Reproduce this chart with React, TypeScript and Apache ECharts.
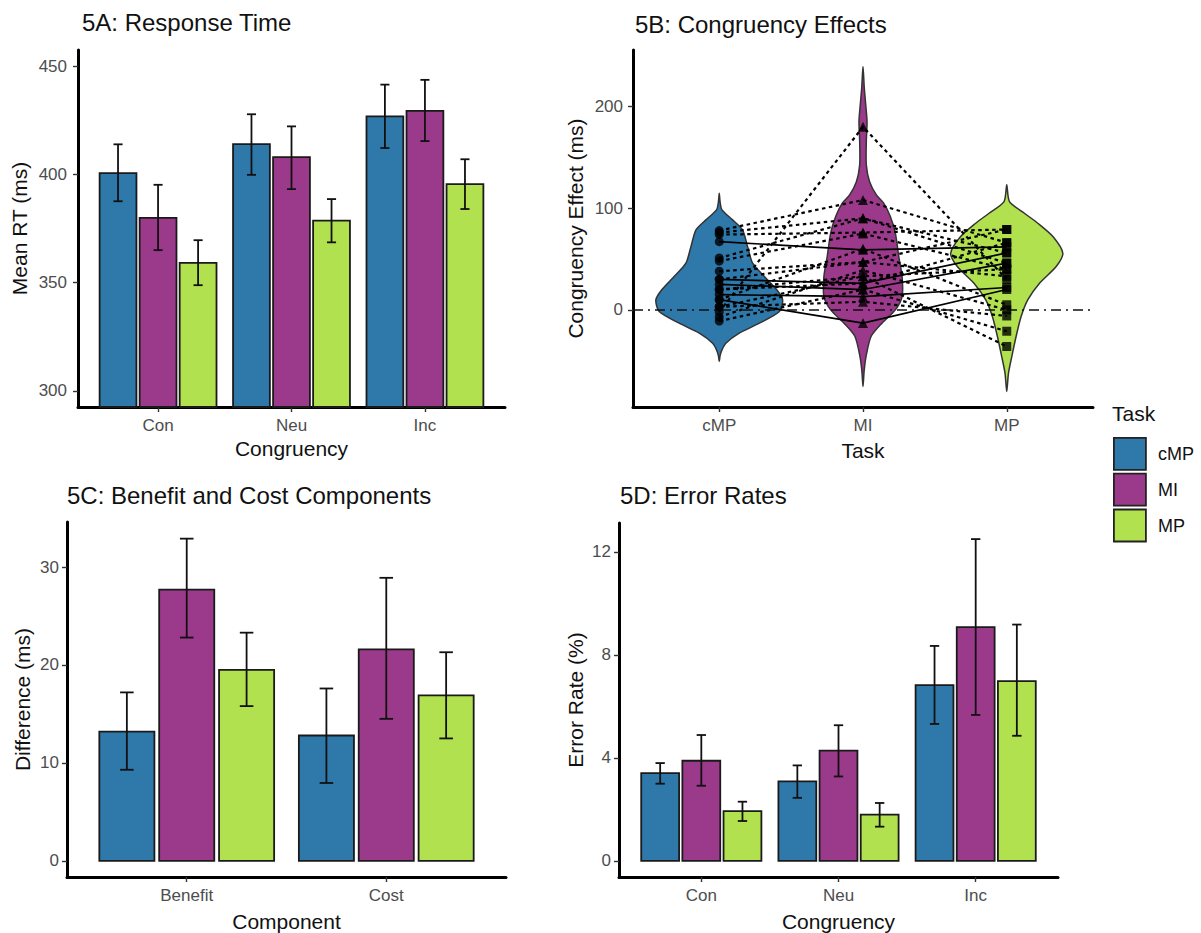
import React, { useEffect, useRef } from 'react';
import * as echarts from 'echarts';

const FONT = '"Liberation Sans", Arial, Helvetica, sans-serif';

const tasks = ['cMP', 'MI', 'MP'];
const taskColors = ['#2E78AA', '#9B3A8A', '#B1E14F'];

const congruencyLabels = ['Con', 'Neu', 'Inc'];
const componentLabels = ['Benefit', 'Cost'];

// 5A response time: [mean, lower, upper] per congruency
const rtCMP = [[400.6, 387.6, 413.9], [414.0, 399.8, 427.8], [426.8, 412.2, 441.5]];
const rtMI = [[379.9, 365.0, 395.2], [408.0, 393.2, 422.2], [429.4, 415.4, 443.7]];
const rtMP = [[359.1, 348.8, 369.6], [378.6, 368.6, 388.6], [395.5, 384.0, 407.0]];

// 5C benefit / cost: [mean, lower, upper]
const compCMP = [[13.2, 9.3, 17.2], [12.8, 7.95, 17.6]];
const compMI = [[27.7, 22.8, 32.9], [21.6, 14.5, 28.9]];
const compMP = [[19.5, 15.8, 23.3], [16.9, 12.5, 21.3]];

// 5D error rates: [mean, lower, upper]
const erCMP = [[3.41, 3.0, 3.8], [3.09, 2.45, 3.71], [6.83, 5.32, 8.35]];
const erMI = [[3.89, 2.92, 4.89], [4.28, 3.28, 5.27], [9.08, 5.67, 12.5]];
const erMP = [[1.93, 1.55, 2.3], [1.8, 1.33, 2.25], [6.98, 4.86, 9.18]];

// 5B violin outlines: [congruency effect (ms), half width (x units)]
const violinCMP = [[114.7, 0], [106, 0.006], [98.3, 0.019], [88.5, 0.093], [78.7, 0.162], [62.2, 0.197], [45.9, 0.232], [32.8, 0.314], [19.7, 0.4], [9.8, 0.441], [-1.6, 0.418], [-13.1, 0.279], [-22.9, 0.139], [-32.8, 0.046], [-39.3, 0.019], [-45, 0.006], [-50.8, 0]];
const violinMI = [[239.3, 0], [218, 0.009], [201.6, 0.019], [185, 0.028], [165.5, 0.023], [142.6, 0.023], [126, 0.046], [113, 0.093], [104.9, 0.144], [91.7, 0.19], [75.4, 0.225], [52.4, 0.249], [32.8, 0.272], [13.1, 0.272], [0, 0.225], [-13.1, 0.132], [-26.2, 0.056], [-45.9, 0.021], [-60, 0.008], [-75.4, 0]];
const violinMP = [[122.9, 0], [106.5, 0.019], [95, 0.123], [85.2, 0.216], [72.1, 0.321], [55.7, 0.39], [42.6, 0.344], [26.2, 0.228], [9.8, 0.146], [-6.6, 0.1], [-26.2, 0.065], [-45.9, 0.035], [-62.2, 0.012], [-80.3, 0]];

// 5B participants' congruency effects per task
const ceCMP = [78, 76, 74, 67, 51, 38, 30, 25, 20, 15, 10, 3, -2, -7, -11, 10, 3, 20, 30, 48];
const ceMI = [108, 90, 76, 59, 90, 47, 26, 20, 33, 13, -13, 8, 180, 39, 20, 60, 33, 26, 47, 75];
const ceMP = [66, 56, 79, 62, 46, 33, 56, 46, 40, 22, 20, -6, 30, 0, -21, 5, -36, 66, 79, 40];
const ceSolid = [false, false, false, true, false, false, true, true, false, true, true, false, false, false, false, false, false, false, false, false];

const rtTicks = [300, 350, 400, 450];
const ceTicks = [0, 100, 200];
const compTicks = [0, 10, 20, 30];
const erTicks = [0, 4, 8, 12];

const RT_MIN = 292.5, RT_MAX = 457.5;
const CE_MIN = -95.5, CE_MAX = 255.5;
const COMP_MIN = -1.65, COMP_MAX = 34.6;
const ER_MIN = -0.625, ER_MAX = 13.125;

const DODGE = 0.3;
const BAR_HALF = 0.138;
const CAP_HALF = 0.034;

function barSeries(ti: number, rows: number[][], axisIdx: number, base: number) {
  return {
    type: 'custom',
    name: tasks[ti],
    xAxisIndex: axisIdx,
    yAxisIndex: axisIdx,
    itemStyle: { color: taskColors[ti] },
    encode: { x: 0, y: 1 },
    data: rows.map((r, i) => [i + 1, r[0], r[1], r[2]]),
    renderItem: (params: any, api: any) => {
      const xc = api.value(0) + (ti - 1) * DODGE;
      const v = api.value(1);
      const lo = api.value(2);
      const hi = api.value(3);
      const tl = api.coord([xc - BAR_HALF, v]);
      const br = api.coord([xc + BAR_HALF, base]);
      const et = api.coord([xc, hi]);
      const eb = api.coord([xc, lo]);
      const cw = api.size([CAP_HALF, 0])[0];
      const es = { stroke: '#111', lineWidth: 1.8 };
      return {
        type: 'group',
        children: [
          { type: 'rect', shape: { x: tl[0], y: tl[1], width: br[0] - tl[0], height: br[1] - tl[1] }, style: { fill: taskColors[ti], stroke: '#1a1a1a', lineWidth: 1.8 } },
          { type: 'line', shape: { x1: et[0], y1: et[1], x2: eb[0], y2: eb[1] }, style: es },
          { type: 'line', shape: { x1: et[0] - cw, y1: et[1], x2: et[0] + cw, y2: et[1] }, style: es },
          { type: 'line', shape: { x1: eb[0] - cw, y1: eb[1], x2: eb[0] + cw, y2: eb[1] }, style: es },
        ],
      };
    },
  };
}

const violins = [violinCMP, violinMI, violinMP];

function violinSeries(ti: number) {
  return {
    type: 'custom',
    name: tasks[ti],
    xAxisIndex: 1,
    yAxisIndex: 1,
    z: 1,
    itemStyle: { color: taskColors[ti] },
    encode: { x: 0, y: 1 },
    data: [[ti + 1, 0]],
    renderItem: (params: any, api: any) => {
      const x0 = api.value(0);
      const outline = violins[ti];
      const right = outline.map(([v, w]) => api.coord([x0 + w, v]));
      const left = outline.slice(1, -1).reverse().map(([v, w]) => api.coord([x0 - w, v]));
      return {
        type: 'polygon',
        shape: { points: right.concat(left), smooth: 0.25 },
        style: { fill: taskColors[ti], stroke: '#333', lineWidth: 1.5 },
      };
    },
  };
}

function xAxis(grid: number, labels: string[], max: number, name: string, nameGap: number, margin: number) {
  const vals = labels.map((_, i) => i + 1);
  return {
    type: 'value',
    gridIndex: grid,
    min: 0.4,
    max,
    name,
    nameLocation: 'middle',
    nameGap,
    nameTextStyle: { fontSize: 21, color: '#111', fontFamily: FONT },
    axisLine: { show: true, onZero: false, lineStyle: { color: '#000', width: 3 } },
    axisTick: { show: true, length: 5, customValues: vals, lineStyle: { color: '#333', width: 1.4 } },
    axisLabel: { customValues: vals, formatter: (v: number) => labels[Math.round(v) - 1] ?? '', color: '#4d4d4d', fontSize: 17, margin, fontFamily: FONT },
    splitLine: { show: false },
  };
}

function yAxis(grid: number, min: number, max: number, ticks: number[], name: string, nameGap: number, margin: number) {
  return {
    type: 'value',
    gridIndex: grid,
    min,
    max,
    name,
    nameLocation: 'middle',
    nameGap,
    nameTextStyle: { fontSize: 21, color: '#111', fontFamily: FONT },
    axisLine: { show: true, onZero: false, lineStyle: { color: '#000', width: 3 } },
    axisTick: { show: true, length: 5, customValues: ticks, lineStyle: { color: '#333', width: 1.4 } },
    axisLabel: { customValues: ticks, color: '#4d4d4d', fontSize: 17, margin, fontFamily: FONT },
    splitLine: { show: false },
  };
}

function titleItem(text: string, left: number, top: number, size = 24) {
  return { text, left, top, padding: 0, textStyle: { fontSize: size, fontWeight: 'normal', color: '#111', fontFamily: FONT } };
}

export default function App() {
  const ref = useRef<HTMLDivElement>(null);
  useEffect(() => {
    if (!ref.current) return;
    const chart = echarts.init(ref.current, undefined, { renderer: 'svg' });

    const participantLines = ceCMP.map((c, i) => ({
      type: 'line',
      name: 'participant' + (i + 1),
      xAxisIndex: 1,
      yAxisIndex: 1,
      z: 4,
      symbol: 'none',
      silent: true,
      data: [[1, c], [2, ceMI[i]], [3, ceMP[i]]],
      lineStyle: { color: '#000', width: ceSolid[i] ? 1.7 : 2.2, type: ceSolid[i] ? 'solid' : [3.5, 3.5] },
    }));

    const option: any = {
      animation: false,
      backgroundColor: '#fff',
      textStyle: { fontFamily: FONT },
      title: [
        titleItem('5A: Response Time', 82, 10),
        titleItem('5B: Congruency Effects', 635, 12),
        titleItem('5C: Benefit and Cost Components', 67, 483),
        titleItem('5D: Error Rates', 620, 483),
        titleItem('Task', 1112, 403, 21),
      ],
      legend: {
        data: tasks,
        orient: 'vertical',
        left: 1113,
        top: 437,
        padding: 0,
        itemWidth: 32,
        itemHeight: 32,
        itemGap: 2,
        icon: 'rect',
        selectedMode: false,
        itemStyle: { borderColor: '#222', borderWidth: 1.8 },
        textStyle: { fontSize: 18, color: '#111', fontFamily: FONT, padding: [0, 0, 0, 7] },
      },
      grid: [
        { left: 78, top: 50, width: 427, height: 357 },
        { left: 633, top: 50, width: 460, height: 357 },
        { left: 67, top: 522, width: 439, height: 355 },
        { left: 619, top: 523, width: 439, height: 354 },
      ],
      xAxis: [
        xAxis(0, congruencyLabels, 3.6, 'Congruency', 31, 10),
        xAxis(1, tasks, 3.6, 'Task', 33, 10),
        xAxis(2, componentLabels, 2.6, 'Component', 34, 10),
        xAxis(3, congruencyLabels, 3.6, 'Congruency', 34, 10),
      ],
      yAxis: [
        yAxis(0, RT_MIN, RT_MAX, rtTicks, 'Mean RT (ms)', 48, 11),
        yAxis(1, CE_MIN, CE_MAX, ceTicks, 'Congruency Effect (ms)', 47, 10),
        yAxis(2, COMP_MIN, COMP_MAX, compTicks, 'Difference (ms)', 34, 8),
        yAxis(3, ER_MIN, ER_MAX, erTicks, 'Error Rate (%)', 33, 8),
      ],
      series: [
        barSeries(0, rtCMP, 0, RT_MIN),
        barSeries(1, rtMI, 0, RT_MIN),
        barSeries(2, rtMP, 0, RT_MIN),
        violinSeries(0),
        violinSeries(1),
        violinSeries(2),
        ...participantLines,
        {
          type: 'scatter', name: 'pts-cMP', xAxisIndex: 1, yAxisIndex: 1, z: 5, silent: true,
          symbol: 'circle', symbolSize: 9, itemStyle: { color: '#000' },
          data: ceCMP.map((v) => [1, v]),
          markLine: {
            silent: true, symbol: 'none', label: { show: false },
            lineStyle: { color: '#111', width: 1.5, type: [10, 5, 2, 5] },
            data: [{ yAxis: 0 }],
          },
        },
        {
          type: 'scatter', name: 'pts-MI', xAxisIndex: 1, yAxisIndex: 1, z: 5, silent: true,
          symbol: 'triangle', symbolSize: 10, itemStyle: { color: '#000' },
          data: ceMI.map((v) => [2, v]),
        },
        {
          type: 'scatter', name: 'pts-MP', xAxisIndex: 1, yAxisIndex: 1, z: 5, silent: true,
          symbol: 'rect', symbolSize: 9, itemStyle: { color: '#000' },
          data: ceMP.map((v) => [3, v]),
        },
        barSeries(0, compCMP, 2, 0),
        barSeries(1, compMI, 2, 0),
        barSeries(2, compMP, 2, 0),
        barSeries(0, erCMP, 3, 0),
        barSeries(1, erMI, 3, 0),
        barSeries(2, erMP, 3, 0),
      ],
    };
    chart.setOption(option);
    return () => chart.dispose();
  }, []);
  return <div ref={ref} style={{ position: 'absolute', left: 0, top: 0, width: 1201, height: 933, background: '#fff' }} />;
}
